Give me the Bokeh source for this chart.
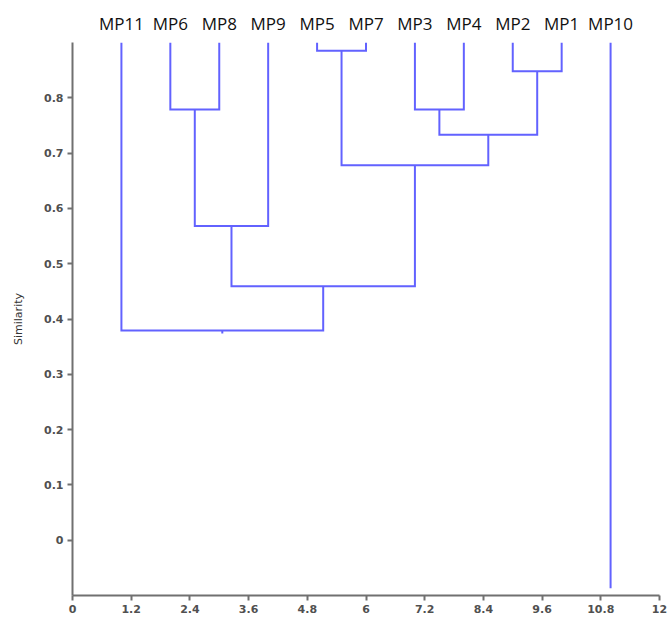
from bokeh.plotting import figure
from bokeh.models import Range1d, LinearAxis, FixedTicker, ColumnDataSource
from bokeh.embed import file_html
from bokeh.resources import INLINE

# ---- data -------------------------------------------------------------
leaf_labels = ["MP11", "MP6", "MP8", "MP9", "MP5", "MP7", "MP3", "MP4", "MP2", "MP1", "MP10"]
leaf_positions = [1, 2, 3, 4, 5, 6, 7, 8, 9, 10, 11]
leaf_top = 0.9
# node ids 0-10 are the leaves; merge i creates node 11 + i
merge_left = [1, 4, 6, 8, 13, 12, 11, 17, 0]
merge_right = [2, 5, 7, 9, 14, 15, 3, 16, 18]
merge_height = [0.779, 0.885, 0.779, 0.848, 0.733, 0.678, 0.568, 0.459, 0.379]
root_stem_bottom = 0.374
unjoined_bottom = -0.087

x_ticks = [0, 1.2, 2.4, 3.6, 4.8, 6, 7.2, 8.4, 9.6, 10.8, 12]
x_tick_labels = ["0", "1.2", "2.4", "3.6", "4.8", "6", "7.2", "8.4", "9.6", "10.8", "12"]
y_ticks = [0, 0.1, 0.2, 0.3, 0.4, 0.5, 0.6, 0.7, 0.8]
y_tick_labels = ["0", "0.1", "0.2", "0.3", "0.4", "0.5", "0.6", "0.7", "0.8"]

# ---- dendrogram paths ---------------------------------------------------
node_x = list(leaf_positions)
node_h = [leaf_top] * len(leaf_positions)
xs, ys = [], []
joined = set()
for l, r, h in zip(merge_left, merge_right, merge_height):
    xl, xr = node_x[l], node_x[r]
    xs.append([xl, xl, xr, xr])
    ys.append([node_h[l], h, h, node_h[r]])
    node_x.append((xl + xr) / 2)
    node_h.append(h)
    joined.update([l, r])
# root stem
xs.append([node_x[-1], node_x[-1]])
ys.append([node_h[-1], root_stem_bottom])
# unjoined leaves
for i, x in enumerate(leaf_positions):
    if i not in joined:
        xs.append([x, x])
        ys.append([leaf_top, unjoined_bottom])

src = ColumnDataSource(dict(xs=xs, ys=ys))

# ---- figure -------------------------------------------------------------
p = figure(frame_width=587, frame_height=553,
           min_border_left=72, min_border_right=11,
           min_border_top=42, min_border_bottom=24,
           x_range=Range1d(0, 12), y_range=Range1d(-0.1, 0.9),
           output_backend="svg", toolbar_location=None)
p.background_fill_color = "white"
p.border_fill_color = "white"
p.outline_line_color = None
p.grid.visible = False

line_col = "#6262ff"
p.multi_line(xs="xs", ys="ys", source=src, line_color=line_col, line_width=2,
             line_join="miter")

axis_col = "#707070"
label_col = "#505050"

xa = p.xaxis[0]
xa.ticker = FixedTicker(ticks=x_ticks)
xa.major_label_overrides = dict(zip(x_ticks, x_tick_labels))
xa.axis_line_color = axis_col
xa.axis_line_width = 2
xa.major_tick_line_color = axis_col
xa.major_tick_line_width = 2
xa.major_tick_in = 0
xa.major_tick_out = 5
xa.minor_tick_line_color = None
xa.major_label_standoff = 4
xa.major_label_text_font = "DejaVu Sans"
xa.major_label_text_font_size = "11px"
xa.major_label_text_font_style = "bold"
xa.major_label_text_color = label_col

ya = p.yaxis[0]
ya.ticker = FixedTicker(ticks=y_ticks)
ya.major_label_overrides = dict(zip(y_ticks, y_tick_labels))
ya.axis_line_color = axis_col
ya.axis_line_width = 2
ya.major_tick_line_color = axis_col
ya.major_tick_line_width = 2
ya.major_tick_in = 0
ya.major_tick_out = 5
ya.minor_tick_line_color = None
ya.major_label_standoff = 4
ya.major_label_text_font = "DejaVu Sans"
ya.major_label_text_font_size = "11px"
ya.major_label_text_font_style = "bold"
ya.major_label_text_color = label_col
ya.axis_label = "Similarity"
ya.axis_label_text_font = "DejaVu Sans"
ya.axis_label_text_font_size = "11px"
ya.axis_label_text_font_style = "normal"
ya.axis_label_text_color = "#333333"
ya.axis_label_standoff = 16

top = LinearAxis(ticker=FixedTicker(ticks=leaf_positions),
                 major_label_overrides=dict(zip(leaf_positions, leaf_labels)))
top.axis_line_color = None
top.major_tick_line_color = None
top.minor_tick_line_color = None
top.major_tick_out = 0
top.major_tick_in = 0
top.major_label_standoff = 8
top.major_label_text_font = "Open Sans"
top.major_label_text_font_size = "17px"
top.major_label_text_color = "#111111"
p.add_layout(top, "above")

open("out.html", "w").write(file_html(p, INLINE))
